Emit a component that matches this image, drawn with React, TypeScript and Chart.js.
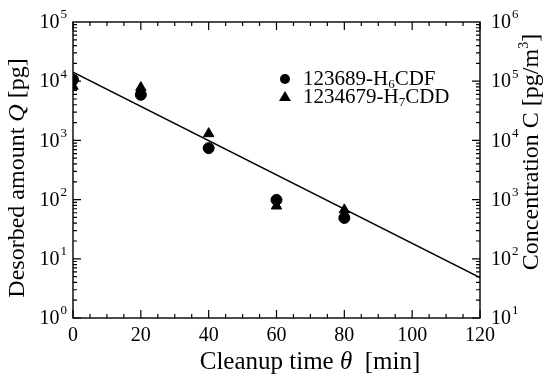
import React, { useEffect, useRef } from "react";
import { Chart, registerables } from "chart.js";

Chart.register(...registerables);

const times = [0, 20, 40, 60, 80];
const h6cdf = [10600, 5900, 740, 99, 49];
const h7cdd = [8200, 7800, 1300, 78, 67];
const fitTimes = [0, 120];
const fitQ = [14200, 4.8];
const xTicks = [0, 20, 40, 60, 80, 100, 120];
const leftExps = [0, 1, 2, 3, 4, 5];
const rightExps = [1, 2, 3, 4, 5, 6];
const seriesNames = ["123689-H", "1234679-H"];
const seriesSubs = ["6", "7"];
const seriesTails = ["CDF", "CDD"];

const SERIF = "'Liberation Serif', 'DejaVu Serif', serif";

const framePlugin = {
  id: "frame",
  afterDraw(chart: any) {
    const { ctx, chartArea } = chart;
    const { left, right, top, bottom } = chartArea;
    const xs = chart.scales.x;
    const yl = chart.scales.y;
    const yr = chart.scales.y2;
    ctx.save();
    ctx.strokeStyle = "#000";
    ctx.lineWidth = 1.4;
    ctx.strokeRect(left, top, right - left, bottom - top);
    ctx.lineWidth = 1.2;
    ctx.beginPath();
    for (let v = 0; v <= 120; v += 5) {
      const px = xs.getPixelForValue(v);
      const len = v % 20 === 0 ? 8 : 4;
      ctx.moveTo(px, bottom);
      ctx.lineTo(px, bottom - len);
      ctx.moveTo(px, top);
      ctx.lineTo(px, top + len);
    }
    const logTicks = (scale: any, exps: number[], x0: number, dir: number) => {
      for (let i = 0; i < exps.length - 1; i++) {
        for (let m = 1; m <= 9; m++) {
          const v = m * Math.pow(10, exps[i]);
          const py = scale.getPixelForValue(v);
          const len = m === 1 ? 8 : 4;
          ctx.moveTo(x0, py);
          ctx.lineTo(x0 + dir * len, py);
        }
      }
    };
    logTicks(yl, leftExps, left, 1);
    logTicks(yr, rightExps, right, -1);
    ctx.stroke();

    // y tick labels with superscripts
    ctx.fillStyle = "#000";
    ctx.textBaseline = "middle";
    const drawPow = (scale: any, exps: number[], side: "l" | "r") => {
      for (const e of exps) {
        const py = scale.getPixelForValue(Math.pow(10, e));
        ctx.font = `20px ${SERIF}`;
        const w10 = ctx.measureText("10").width;
        ctx.font = `13px ${SERIF}`;
        const we = ctx.measureText(String(e)).width;
        let x0;
        if (side === "l") x0 = left - 7 - we - w10;
        else x0 = right + 11;
        ctx.font = `20px ${SERIF}`;
        ctx.textAlign = "left";
        ctx.fillText("10", x0, py + 1);
        ctx.font = `13px ${SERIF}`;
        ctx.fillText(String(e), x0 + w10 + 1, py - 7);
      }
    };
    drawPow(yl, leftExps, "l");
    drawPow(yr, rightExps, "r");

    // legend
    const lx = xs.getPixelForValue(62.5);
    const ly0 = 79;
    const ly1 = 97;
    ctx.beginPath();
    ctx.arc(lx, ly0, 5, 0, Math.PI * 2);
    ctx.fill();
    ctx.beginPath();
    ctx.moveTo(lx, ly1 - 6);
    ctx.lineTo(lx + 6, ly1 + 4);
    ctx.lineTo(lx - 6, ly1 + 4);
    ctx.closePath();
    ctx.fill();
    const drawSub = (x: number, y: number, a: string, s: string, b: string) => {
      ctx.textAlign = "left";
      ctx.font = `21px ${SERIF}`;
      ctx.fillText(a, x, y);
      let cx = x + ctx.measureText(a).width;
      ctx.font = `13px ${SERIF}`;
      ctx.fillText(s, cx, y + 6);
      cx += ctx.measureText(s).width;
      ctx.font = `21px ${SERIF}`;
      ctx.fillText(b, cx, y);
    };
    for (let i = 0; i < 2; i++) {
      drawSub(lx + 18, i === 0 ? ly0 : ly1, seriesNames[i], seriesSubs[i], seriesTails[i]);
    }

    // axis titles
    const parts = (segs: [string, string][], x: number, y: number, rot: number) => {
      ctx.save();
      ctx.translate(x, y);
      ctx.rotate(rot);
      let total = 0;
      for (const [t, f] of segs) {
        ctx.font = f;
        total += ctx.measureText(t).width;
      }
      let cx = -total / 2;
      ctx.textAlign = "left";
      ctx.textBaseline = "middle";
      for (const [t, f] of segs) {
        ctx.font = f;
        const dy = f.startsWith("14px") ? -8 : 0;
        ctx.fillText(t, cx, dy);
        cx += ctx.measureText(t).width;
      }
      ctx.restore();
    };
    const n = `24px ${SERIF}`;
    const it = `italic 24px ${SERIF}`;
    const nx = `25px ${SERIF}`;
    const itx = `italic 25px ${SERIF}`;
    parts([["Cleanup time ", nx], ["θ", itx], ["  [min]", nx]], 310, 362, 0);
    parts([["Desorbed amount ", n], ["Q", it], [" [pg]", n]], 18, 178, -Math.PI / 2);
    parts(
      [["Concentration C [pg/m", n], ["3", `14px ${SERIF}`], ["]", n]],
      532,
      152,
      -Math.PI / 2
    );
    ctx.restore();
  },
};

export default function App() {
  const ref = useRef<HTMLCanvasElement>(null);
  useEffect(() => {
    const canvas = ref.current!;
    const chart = new Chart(canvas, {
      type: "scatter",
      data: {
        datasets: [
          {
            label: "123689-H6CDF",
            data: times.map((t, i) => ({ x: t, y: h6cdf[i] })),
            pointStyle: "circle",
            pointRadius: 5.5,
            backgroundColor: "#000",
            borderColor: "#000",
            yAxisID: "y",
          },
          {
            label: "1234679-H7CDD",
            data: times.map((t, i) => ({ x: t, y: h7cdd[i] })),
            pointStyle: "triangle",
            pointRadius: 6,
            backgroundColor: "#000",
            borderColor: "#000",
            yAxisID: "y",
          },
          {
            type: "line",
            label: "fit",
            data: fitTimes.map((t, i) => ({ x: t, y: fitQ[i] })),
            borderColor: "#000",
            borderWidth: 1.5,
            pointRadius: 0,
            showLine: true,
            fill: false,
            yAxisID: "y",
          } as any,
        ],
      },
      options: {
        animation: false,
        responsive: false,
        maintainAspectRatio: false,
        layout: { padding: { top: 22, left: 0, right: 0, bottom: 0 } },
        plugins: { legend: { display: false }, tooltip: { enabled: false } },
        scales: {
          x: {
            type: "linear",
            min: 0,
            max: 120,
            grid: { display: false },
            border: { display: false },
            afterBuildTicks: (s: any) => {
              s.ticks = xTicks.map((v) => ({ value: v }));
            },
            afterFit: (s: any) => {
              s.height = 58;
            },
            ticks: {
              color: "#000",
              padding: -2,
              maxRotation: 0,
              font: { family: SERIF, size: 20 },
            },
          },
          y: {
            type: "logarithmic",
            position: "left",
            min: 1,
            max: 1e5,
            grid: { display: false },
            border: { display: false },
            ticks: { display: false },
            afterFit: (s: any) => {
              s.width = 73;
            },
          },
          y2: {
            type: "logarithmic",
            position: "right",
            min: 10,
            max: 1e6,
            grid: { display: false },
            border: { display: false },
            ticks: { display: false },
            afterFit: (s: any) => {
              s.width = 66;
            },
          },
        },
      },
      plugins: [framePlugin],
    });
    return () => chart.destroy();
  }, []);
  return (
    <div style={{ position: "fixed", left: 0, top: 0, width: 546, height: 376, background: "#fff" }}>
      <canvas ref={ref} width={546} height={376} style={{ width: 546, height: 376 }} />
    </div>
  );
}
